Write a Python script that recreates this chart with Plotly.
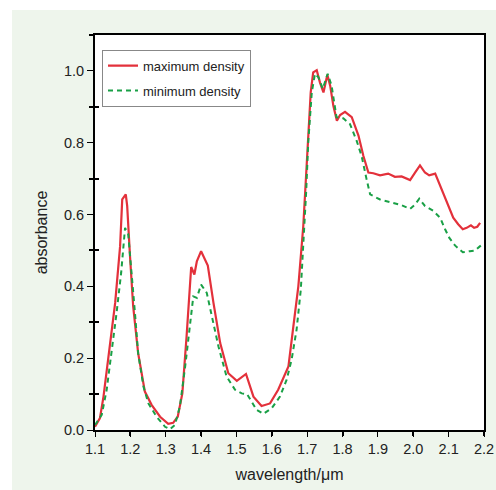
import plotly.graph_objects as go

# ---------------- data ----------------
red_w = [1.100,1.114,1.124,1.138,1.145,1.157,1.171,1.177,1.187,1.191,1.199,1.208,1.222,1.241,1.260,1.284,1.307,1.321,1.334,1.347,
         1.359,1.372,1.381,1.388,1.400,1.419,1.435,1.454,1.477,1.501,1.527,1.548,1.571,1.595,1.618,1.647,1.661,1.675,1.689,1.700,
         1.710,1.717,1.727,1.736,1.746,1.757,1.765,1.774,1.784,1.793,1.807,1.826,1.845,1.859,1.873,1.887,1.906,1.929,1.948,1.967,
         1.991,2.005,2.019,2.033,2.045,2.062,2.076,2.095,2.113,2.127,2.140,2.151,2.163,2.172,2.181,2.189]
red_a = [0.009,0.033,0.093,0.205,0.251,0.354,0.512,0.642,0.656,0.624,0.484,0.344,0.214,0.107,0.070,0.037,0.017,0.020,0.037,0.102,
         0.261,0.454,0.433,0.470,0.498,0.458,0.354,0.242,0.158,0.137,0.156,0.093,0.067,0.074,0.112,0.177,0.289,0.400,0.568,0.754,
         0.940,0.996,1.002,0.968,0.940,0.989,0.959,0.903,0.861,0.877,0.886,0.871,0.820,0.763,0.717,0.715,0.709,0.714,0.705,0.706,
         0.696,0.717,0.737,0.717,0.709,0.714,0.680,0.633,0.591,0.573,0.559,0.563,0.570,0.563,0.566,0.577]

green_w = [1.100,1.119,1.133,1.147,1.161,1.174,1.185,1.194,1.204,1.213,1.222,1.237,1.251,1.274,1.298,1.312,1.326,1.340,1.355,1.367,
           1.378,1.388,1.400,1.416,1.430,1.449,1.472,1.496,1.515,1.530,1.543,1.557,1.576,1.600,1.623,1.642,1.656,1.670,1.682,1.689,
           1.697,1.703,1.713,1.722,1.732,1.744,1.758,1.769,1.779,1.783,1.802,1.821,1.840,1.854,1.868,1.878,1.906,1.934,1.967,1.991,
           2.005,2.017,2.033,2.057,2.076,2.090,2.102,2.118,2.140,2.160,2.175,2.189,2.200]
green_a = [0.014,0.042,0.112,0.214,0.326,0.438,0.563,0.545,0.438,0.326,0.214,0.121,0.074,0.037,0.009,0.002,0.014,0.065,0.177,0.289,
           0.372,0.368,0.405,0.382,0.316,0.233,0.149,0.112,0.102,0.100,0.079,0.056,0.045,0.061,0.093,0.140,0.196,0.279,0.391,0.512,
           0.661,0.801,0.940,0.992,0.982,0.950,0.992,0.959,0.903,0.871,0.868,0.852,0.805,0.763,0.698,0.656,0.642,0.635,0.626,0.616,
           0.628,0.644,0.624,0.610,0.591,0.559,0.535,0.514,0.495,0.498,0.500,0.512,0.520]

x_ticks = [1.1, 1.2, 1.3, 1.4, 1.5, 1.6, 1.7, 1.8, 1.9, 2.0, 2.1, 2.2]
x_tick_labels = ["1.1", "1.2", "1.3", "1.4", "1.5", "1.6", "1.7", "1.8", "1.9", "2.0", "2.1", "2.2"]
x_major_even = [1.2, 1.4, 1.6, 1.8, 2.0, 2.2]
y_ticks = [0.0, 0.2, 0.4, 0.6, 0.8, 1.0]
y_tick_labels = ["0.0", "0.2", "0.4", "0.6", "0.8", "1.0"]
y_minor = [0.1, 0.3, 0.5, 0.7, 0.9, 1.1]
series_names = ["maximum density", "minimum density"]

# ---------------- figure ----------------
FONT = "Liberation Sans, Arial, sans-serif"
RED = "#e3313b"
GREEN = "#19a046"
XR = [1.1, 2.2]
YR = [0, 1.1]

fig = go.Figure()
fig.add_trace(go.Scatter(x=red_w, y=red_a, mode="lines", name=series_names[0],
                         line=dict(color=RED, width=2.2), legendgroup="a"))
fig.add_trace(go.Scatter(x=green_w, y=green_a, mode="lines", name=series_names[1],
                         line=dict(color=GREEN, width=2, dash="5px,4px"), legendgroup="b"))
# invisible trace to carry overlay axes for extra tick styling
fig.add_trace(go.Scatter(x=[None], y=[None], xaxis="x2", yaxis="y2", showlegend=False,
                         hoverinfo="skip", mode="lines"))

fig.update_layout(
    width=496, height=490, autosize=False,
    margin=dict(l=95, r=12, t=35, b=60),
    paper_bgcolor="#eef5ec",
    plot_bgcolor="white",
    font=dict(family=FONT, color="#222222"),
    showlegend=True,
    legend=dict(x=0.018, y=0.963, xanchor="left", yanchor="top",
                bgcolor="white", bordercolor="#888888", borderwidth=1,
                font=dict(size=13, family=FONT, color="#222222"),
                traceorder="grouped", tracegroupgap=5),
    xaxis=dict(range=XR, tickvals=x_ticks, ticktext=x_tick_labels, automargin=False,
               ticks="outside", ticklen=5, tickwidth=1, tickcolor="black",
               showline=True, linecolor="black", linewidth=2, mirror=True,
               showgrid=False, zeroline=False,
               tickfont=dict(size=14.5, family=FONT, color="#222222"),
               title=dict(text="wavelength/\u03bcm", font=dict(size=16, family=FONT, color="#222222"),
                          standoff=12)),
    yaxis=dict(range=YR, tickvals=y_ticks, ticktext=y_tick_labels, automargin=False,
               ticks="outside", ticklen=6, tickwidth=1, tickcolor="black",
               minor=dict(tickvals=y_minor, ticks="outside", ticklen=4, tickwidth=2, tickcolor="black"),
               showline=True, linecolor="black", linewidth=2, mirror=True,
               showgrid=False, zeroline=False,
               tickfont=dict(size=14.5, family=FONT, color="#222222"),
               title=dict(text="absorbance", font=dict(size=16, family=FONT, color="#222222"),
                          standoff=12)),
    xaxis2=dict(range=XR, overlaying="x", anchor="y2", side="bottom", automargin=False,
                tickvals=x_major_even, showticklabels=False,
                ticks="outside", ticklen=5, tickwidth=2, tickcolor="black",
                showline=False, showgrid=False, zeroline=False),
    yaxis2=dict(range=YR, overlaying="y", anchor="x2", side="left", automargin=False,
                tickvals=y_minor, showticklabels=False,
                ticks="inside", ticklen=4, tickwidth=2, tickcolor="black",
                showline=False, showgrid=False, zeroline=False),
    shapes=[
        # white outer strips (top and left) around the tinted panel
        dict(type="rect", xref="paper", yref="paper", x0=-0.3, x1=1.1, y0=(430 - 10) / 395, y1=1.2,
             fillcolor="white", line=dict(width=0), layer="below"),
        dict(type="rect", xref="paper", yref="paper", x0=-0.3, x1=(12 - 95) / 389, y0=-0.3, y1=1.2,
             fillcolor="white", line=dict(width=0), layer="below"),
    ],
)

fig.write_html(
    "out.html",
    config={"displayModeBar": False, "responsive": False},
    post_script="document.body.style.margin='0';document.body.style.overflow='hidden';",
)
